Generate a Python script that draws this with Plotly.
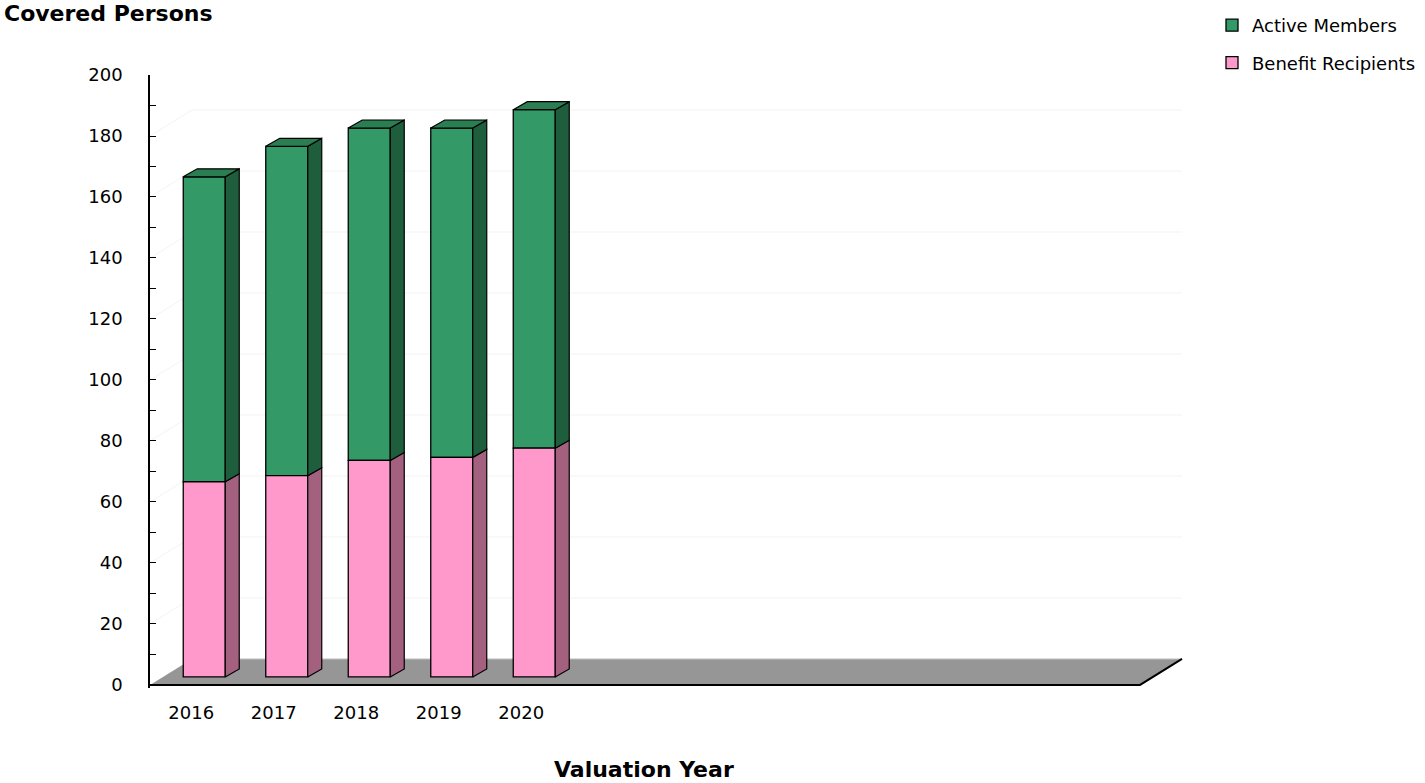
import plotly.graph_objects as go

# ---- data ----
years = ["2016", "2017", "2018", "2019", "2020"]
benefit_recipients = [64, 66, 71, 72, 75]
active_members = [100, 108, 109, 108, 111]
n_slots = 12
y_ticks = [0, 20, 40, 60, 80, 100, 120, 140, 160, 180, 200]

# ---- 3D styling (data units) ----
PX_X = 82.5      # px per category slot
PX_Y = 3.05      # px per value unit
fx, fy = 13 / PX_X, 8 / PX_Y          # bar front offset on floor
bdx, bdy = 14 / PX_X, 8 / PX_Y        # bar depth
floor_dx, floor_dy = 42 / PX_X, 26 / PX_Y
bw = 42 / PX_X

PINK, PINK_SIDE = "#FF99CC", "#A3607F"
GREEN, GREEN_SIDE, GREEN_TOP = "#339966", "#1F5E3D", "#2B7D52"

fig = go.Figure()

# front faces (bars)
xs = [i + fx for i in range(len(years))]
fig.add_trace(go.Bar(
    x=xs, y=active_members, base=[fy + b for b in benefit_recipients], width=bw,
    name="Active Members", marker=dict(color=GREEN, line=dict(color="black", width=1.3)),
    legendgroup="a", hoverinfo="skip"))
fig.add_trace(go.Bar(
    x=xs, y=benefit_recipients, base=[fy] * len(years), width=bw,
    name="Benefit Recipients", marker=dict(color=PINK, line=dict(color="black", width=1.3)),
    legendgroup="b", hoverinfo="skip"))

# side & top faces
def side(y0s, y1s):
    px, py = [], []
    for x, y0, y1 in zip(xs, y0s, y1s):
        xr = x + bw / 2
        px += [xr, xr + bdx, xr + bdx, xr, xr, None]
        py += [y0, y0 + bdy, y1 + bdy, y1, y0, None]
    return px, py

pk0 = [fy] * len(years)
pk1 = [fy + b for b in benefit_recipients]
gr1 = [fy + b + a for b, a in zip(benefit_recipients, active_members)]
sx, sy = side(pk0, pk1)
fig.add_trace(go.Scatter(x=sx, y=sy, fill="toself", fillcolor=PINK_SIDE, mode="lines",
                         line=dict(color="black", width=1.2), showlegend=False, hoverinfo="skip"))
sx, sy = side(pk1, gr1)
fig.add_trace(go.Scatter(x=sx, y=sy, fill="toself", fillcolor=GREEN_SIDE, mode="lines",
                         line=dict(color="black", width=1.2), showlegend=False, hoverinfo="skip"))
tx, ty = [], []
for x, t in zip(xs, gr1):
    xl, xr = x - bw / 2, x + bw / 2
    tx += [xl, xr, xr + bdx, xl + bdx, xl, None]
    ty += [t, t, t + bdy, t + bdy, t, None]
fig.add_trace(go.Scatter(x=tx, y=ty, fill="toself", fillcolor=GREEN_TOP, mode="lines",
                         line=dict(color="black", width=1.2), showlegend=False, hoverinfo="skip"))

# floor and walls (below traces)
x0, x1 = -0.5, n_slots - 0.5
shapes = []
for v in y_ticks[1:-1]:
    shapes.append(dict(type="path", layer="below", xref="x", yref="y",
                       path=f"M {x0},{v} L {x0 + floor_dx},{v + floor_dy} L {x1 + floor_dx},{v + floor_dy}",
                       line=dict(color="#f3f3f3", width=1)))
shapes.append(dict(type="path", layer="below", xref="x", yref="y",
                   path=f"M {x0},0 L {x1},0 L {x1 + floor_dx},{floor_dy} L {x0 + floor_dx},{floor_dy} Z",
                   fillcolor="#969696", line=dict(width=0)))
shapes.append(dict(type="path", layer="below", xref="x", yref="y",
                   path=f"M {x0 + floor_dx},{floor_dy} L {x1 + floor_dx},{floor_dy}",
                   line=dict(color="#c4c4c4", width=1)))
shapes.append(dict(type="path", layer="below", xref="x", yref="y",
                   path=f"M {x0},0 L {x1},0 L {x1 + floor_dx},{floor_dy}",
                   line=dict(color="black", width=2)))

FONT = "DejaVu Sans"
fig.update_layout(
    width=1425, height=783,
    margin=dict(l=150, r=240, t=75, b=95, autoexpand=False),
    paper_bgcolor="white", plot_bgcolor="white",
    barmode="overlay",
    shapes=shapes,
    showlegend=True,
    legend=dict(x=(1212 - 150) / 1035, y=(688 - 7) / 613, xanchor="left", yanchor="top",
                font=dict(family=FONT, size=18, color="black"),
                tracegroupgap=11, traceorder="grouped", itemwidth=30,
                bgcolor="rgba(0,0,0,0)"),
    xaxis=dict(range=[x0, x0 + 1035 / PX_X], tickvals=list(range(len(years))), ticktext=years,
               showgrid=False, zeroline=False, showline=False, ticks="",
               tickfont=dict(family=FONT, size=18, color="black"), ticklabelstandoff=12,
               fixedrange=True),
    yaxis=dict(range=[-1, 200], tickvals=y_ticks, showgrid=False, zeroline=False,
               showline=True, linecolor="black", linewidth=1.5,
               ticks="inside", ticklen=6, tickcolor="black", tickwidth=1.3,
               minor=dict(dtick=10, ticks="inside", ticklen=6, tickcolor="black", tickwidth=1.3),
               tickfont=dict(family=FONT, size=18, color="black"), ticklabelstandoff=22,
               fixedrange=True),
    annotations=[
        dict(text="<b>Covered Persons</b>", xref="paper", yref="paper",
             x=(2 - 150) / 1035, y=(688 - 13) / 613, xanchor="left", yanchor="middle",
             showarrow=False, font=dict(family=FONT, size=22, color="black")),
        dict(text="<b>Valuation Year</b>", xref="paper", yref="paper",
             x=(644 - 150) / 1035, y=(688 - 769) / 613, xanchor="center", yanchor="middle",
             showarrow=False, font=dict(family=FONT, size=22, color="black")),
    ],
)

fig.write_html("out.html", config={"displayModeBar": False},
               post_script="document.body.style.margin='0';")
